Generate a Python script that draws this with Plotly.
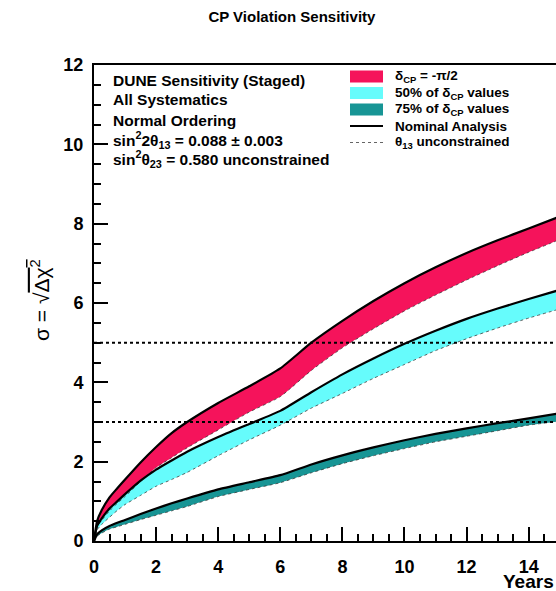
import plotly.graph_objects as go

# ---------------- data ----------------
years = [0, 0.1, 0.25, 0.5, 0.75, 1, 1.5, 2, 2.5, 3, 4, 5, 6, 7, 8, 9, 10, 11, 12, 13, 14, 15]

red_nom = [0, 0.50, 0.78, 1.10, 1.33, 1.55, 1.98, 2.37, 2.72, 3.00, 3.48, 3.90, 4.35, 5.00, 5.55, 6.05, 6.50, 6.90, 7.26, 7.58, 7.88, 8.18]
red_th13 = [0, 0.35, 0.52, 0.76, 0.95, 1.12, 1.50, 1.85, 2.10, 2.35, 2.80, 3.25, 3.64, 4.30, 4.87, 5.35, 5.80, 6.20, 6.58, 6.94, 7.28, 7.60]

cyan_nom = [0, 0.38, 0.57, 0.82, 1.00, 1.18, 1.52, 1.80, 2.03, 2.25, 2.62, 2.95, 3.28, 3.75, 4.20, 4.60, 4.97, 5.30, 5.60, 5.86, 6.10, 6.33]
cyan_th13 = [0, 0.28, 0.42, 0.60, 0.77, 0.92, 1.15, 1.38, 1.55, 1.73, 2.15, 2.55, 2.92, 3.35, 3.72, 4.10, 4.45, 4.80, 5.10, 5.37, 5.62, 5.85]

teal_nom = [0, 0.17, 0.27, 0.38, 0.46, 0.53, 0.68, 0.82, 0.95, 1.07, 1.30, 1.48, 1.66, 1.93, 2.16, 2.36, 2.54, 2.70, 2.84, 2.97, 3.09, 3.22]
teal_th13 = [0, 0.12, 0.20, 0.30, 0.36, 0.42, 0.54, 0.65, 0.76, 0.87, 1.12, 1.30, 1.47, 1.72, 1.95, 2.15, 2.33, 2.50, 2.64, 2.78, 2.92, 3.02]

sigma_levels = [3, 5]

legend_names = [
    "δ<sub>CP</sub> = -π/2",
    "50% of δ<sub>CP</sub> values",
    "75% of δ<sub>CP</sub> values",
    "Nominal Analysis",
    "θ<sub>13</sub> unconstrained",
]

info_lines = [
    "DUNE Sensitivity (Staged)",
    "All Systematics",
    "Normal Ordering",
    "sin<sup>2</sup>2θ<sub>13</sub> = 0.088 ± 0.003",
    "sin<sup>2</sup>θ<sub>23</sub> = 0.580 unconstrained",
]

# ---------------- style / layout constants ----------------
RED = "#F5135B"
CYAN = "#66FCFC"
TEAL = "#179595"
DOT_COL = "rgba(50,50,50,0.75)"
FONT = "Liberation Sans, Arial, Helvetica, sans-serif"
X_MAX = 14.88

W, H = 556, 591
ML, MR, MT, MB = 94, 0, 65, 50
PW, PH = W - ML - MR, H - MT - MB


def px_x(px):
    return (px - ML) / PW


def px_y(py):
    return (H - MB - py) / PH


fig = go.Figure()

bands = [(red_th13, red_nom, RED), (cyan_th13, cyan_nom, CYAN), (teal_th13, teal_nom, TEAL)]
SHAPE = dict(shape="spline", smoothing=0.5)

for low, up, col in bands:
    fig.add_trace(go.Scatter(x=years, y=low, mode="lines", line=dict(width=0, color=col, **SHAPE),
                             showlegend=False, hoverinfo="skip"))
    fig.add_trace(go.Scatter(x=years, y=up, mode="lines", line=dict(width=0, color=col, **SHAPE),
                             fill="tonexty", fillcolor=col, showlegend=False, hoverinfo="skip"))

for low, up, col in bands:
    fig.add_trace(go.Scatter(x=years, y=low, mode="lines",
                             line=dict(width=1, color=DOT_COL, dash="dot", **SHAPE),
                             showlegend=False, hoverinfo="skip"))
    fig.add_trace(go.Scatter(x=years, y=up, mode="lines",
                             line=dict(width=2.2, color="black", **SHAPE),
                             showlegend=False, hoverinfo="skip"))

for lvl in sigma_levels:
    fig.add_trace(go.Scatter(x=[years[0], years[-1]], y=[lvl, lvl], mode="lines",
                             line=dict(width=2, color="black", dash="dot"),
                             showlegend=False, hoverinfo="skip"))

# ---------------- legend (drawn as a key box, upper right) ----------------
leg_rows = [76.5, 93.0, 109.5, 126.0, 142.5]
sw_x0, sw_x1, txt_x = 350, 383, 393
for i, (name, row) in enumerate(zip(legend_names, leg_rows)):
    if i < 3:
        col = [RED, CYAN, TEAL][i]
        fig.add_shape(type="rect", xref="paper", yref="paper",
                      x0=px_x(sw_x0), x1=px_x(sw_x1), y0=px_y(row + 6), y1=px_y(row - 6),
                      fillcolor=col, line=dict(width=0))
    elif i == 3:
        fig.add_shape(type="line", xref="paper", yref="paper",
                      x0=px_x(sw_x0), x1=px_x(sw_x1), y0=px_y(row), y1=px_y(row),
                      line=dict(width=2.2, color="black"))
    else:
        fig.add_shape(type="line", xref="paper", yref="paper",
                      x0=px_x(sw_x0), x1=px_x(sw_x1), y0=px_y(row), y1=px_y(row),
                      line=dict(width=1.2, color=DOT_COL, dash="dot"))
    fig.add_annotation(text=name, xref="paper", yref="paper", x=px_x(txt_x), y=px_y(row),
                       xanchor="left", yanchor="middle", showarrow=False,
                       font=dict(family=FONT, size=13.5, color="black", weight="bold"))

# info text block
info_rows = [80, 100, 120, 139.5, 158.5]
for t, row in zip(info_lines, info_rows):
    fig.add_annotation(text=t, xref="paper", yref="paper", x=px_x(111), y=px_y(row),
                       xanchor="left", yanchor="middle", showarrow=False,
                       font=dict(family=FONT, size=15.5, color="black", weight="bold"))

# y-axis title
fig.add_annotation(text="σ = √<span style='text-decoration:overline'>Δχ<sup>2</sup></span>",
                   xref="paper", yref="paper", x=px_x(40), y=px_y(300), textangle=-90,
                   xanchor="center", yanchor="middle", showarrow=False,
                   font=dict(family=FONT, size=21, color="black"))

# x-axis title
fig.add_annotation(text="Years", xref="paper", yref="paper", x=1.0, y=px_y(581),
                   xanchor="right", yanchor="middle", showarrow=False,
                   font=dict(family=FONT, size=19, color="black", weight="bold"))

axis_common = dict(
    showline=True, linewidth=2, linecolor="black",
    ticks="inside", ticklen=14, tickwidth=2, tickcolor="black",
    showgrid=False, zeroline=False, automargin=False,
    tickfont=dict(family=FONT, size=18, color="black", weight="bold"),
    tick0=0, dtick=2,
    minor=dict(ticks="inside", ticklen=7, tickwidth=2, tickcolor="black", dtick=0.5, showgrid=False),
)

fig.update_layout(
    width=W, height=H,
    margin=dict(l=ML, r=MR, t=MT, b=MB, autoexpand=False),
    paper_bgcolor="white", plot_bgcolor="white",
    title=dict(text="CP Violation Sensitivity", x=0.525, xanchor="center",
               y=0.972, yanchor="middle",
               font=dict(family=FONT, size=15, color="black", weight="bold")),
    xaxis=dict(range=[0, X_MAX], mirror=True, ticklabelstandoff=8, **axis_common),
    yaxis=dict(range=[0, 12], mirror=False, ticklabelstandoff=5, **axis_common),
    showlegend=False,
)

fig.write_html(
    "out.html",
    config={"displayModeBar": False},
    post_script="document.body.style.margin='0px';document.body.style.overflow='hidden';",
)
